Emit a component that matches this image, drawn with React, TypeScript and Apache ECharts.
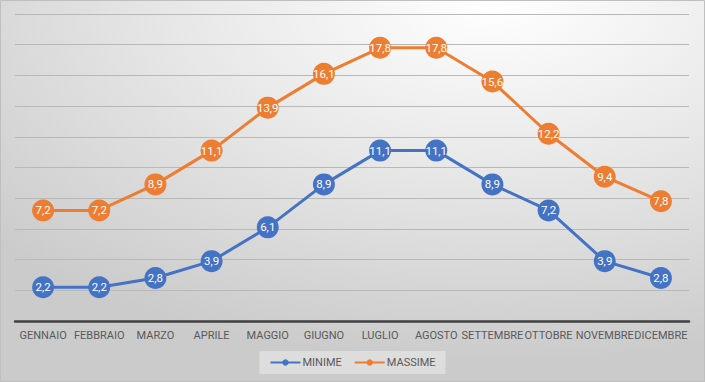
import React, { useEffect, useRef } from "react";
import * as echarts from "echarts";

const months = ["GENNAIO", "FEBBRAIO", "MARZO", "APRILE", "MAGGIO", "GIUGNO", "LUGLIO", "AGOSTO", "SETTEMBRE", "OTTOBRE", "NOVEMBRE", "DICEMBRE"];
const minime = [2.2, 2.2, 2.8, 3.9, 6.1, 8.9, 11.1, 11.1, 8.9, 7.2, 3.9, 2.8];
const massime = [7.2, 7.2, 8.9, 11.1, 13.9, 16.1, 17.8, 17.8, 15.6, 12.2, 9.4, 7.8];

const FONT = "Roboto, 'Open Sans', sans-serif";

export default function App() {
  const ref = useRef<HTMLDivElement>(null);
  useEffect(() => {
    document.body.style.margin = "0";
    const chart = echarts.init(ref.current!, null, { renderer: "svg" });
    const mkSeries = (name: string, data: number[], color: string) => ({
      name,
      type: "line",
      data,
      symbol: "circle",
      symbolSize: 22,
      lineStyle: { color, width: 3 },
      itemStyle: { color },
      label: {
        show: true,
        position: "inside",
        color: "#ffffff",
        fontSize: 11.5,
        fontFamily: FONT,
        formatter: (p: any) => String(p.value).replace(".", ","),
      },
      emphasis: { disabled: true },
    });
    chart.setOption({
      animation: false,
      backgroundColor: {
        type: "radial",
        x: 0.7,
        y: 0.0,
        r: 0.95,
        colorStops: [
          { offset: 0, color: "#ffffff" },
          { offset: 0.5, color: "#e6e6e6" },
          { offset: 1, color: "#cbcbcb" },
        ],
      },
      grid: { left: 15, right: 16, top: 14, bottom: 61, containLabel: false },
      xAxis: {
        type: "category",
        data: months,
        boundaryGap: true,
        axisLine: { lineStyle: { color: "#404040", width: 2.5 } },
        axisTick: { show: false },
        axisLabel: { interval: 0, color: "#595959", fontSize: 11, fontFamily: FONT, margin: 9 },
      },
      yAxis: {
        type: "value",
        min: 0,
        max: 20,
        interval: 2,
        axisLabel: { show: false },
        axisLine: { show: false },
        axisTick: { show: false },
        splitLine: { lineStyle: { color: "#b8b8b8", width: 1 } },
      },
      legend: {
        bottom: 8,
        left: "center",
        itemWidth: 30,
        itemHeight: 8,
        itemGap: 12,
        padding: [6, 10],
        backgroundColor: "rgba(255,255,255,0.35)",
        textStyle: { color: "#595959", fontSize: 11, fontFamily: FONT, padding: [0, 0, 0, -3] },
        data: ["MINIME", "MASSIME"],
      },
      graphic: [
        {
          type: "rect",
          shape: { x: 0.5, y: 0.5, width: 704, height: 381 },
          style: { fill: "none", stroke: "#bfbfbf", lineWidth: 1 },
          silent: true,
        },
      ],
      series: [mkSeries("MINIME", minime, "#4472C4"), mkSeries("MASSIME", massime, "#ED7D31")],
    });
    return () => chart.dispose();
  }, []);
  return <div ref={ref} style={{ width: 705, height: 382 }} />;
}
